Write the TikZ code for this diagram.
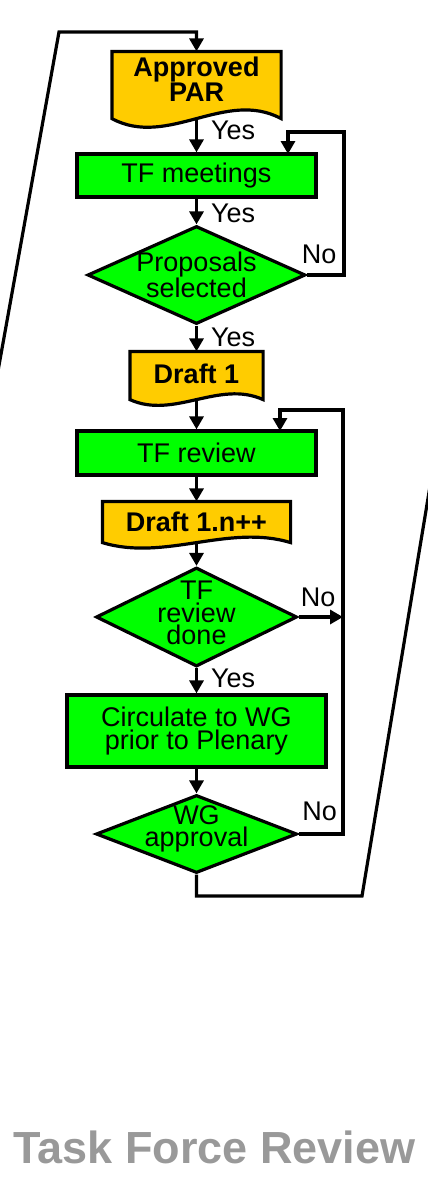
\documentclass[tikz,border=0pt]{standalone}
\usepackage{fontspec}
\setmainfont{Liberation Sans}
\usetikzlibrary{shapes.geometric,arrows.meta,backgrounds,calc}

\definecolor{docgold}{HTML}{FFCC00}
\definecolor{stepgreen}{HTML}{00FF00}
\definecolor{titlegray}{HTML}{999999}

\tikzset{
  stepbox/.style={rectangle, draw, fill=stepgreen, inner sep=0, align=center,
    font=\fontsize{27}{22.5}\selectfont},
  decision/.style={diamond, draw, fill=stepgreen, inner sep=0},
  docbox/.style={rectangle, draw=none, inner sep=0},
  docline/.style={draw, fill=docgold, line width=3.2pt},
  doctext/.style={font=\fontsize{27}{22.5}\selectfont\bfseries, align=center, inner sep=0},
  steptext/.style={font=\fontsize{27}{22.5}\selectfont, align=center, inner sep=0},
  lbl/.style={font=\fontsize{27}{22.5}\selectfont, inner sep=0},
  slidetitle/.style={font=\fontsize{45}{50}\selectfont\bfseries, text=titlegray, inner sep=0},
  flow/.style={-{Triangle[length=13pt,width=14pt]}, line width=3.2pt}
}

% document outline with a wavy bottom, behind the node
\newcommand{\docshape}[2]{%
  \begin{scope}[on background layer]
    \draw[docline] (#1.south west) -- (#1.north west) -- (#1.north east) -- (#1.south east)
      .. controls ($(#1.south east)!0.33!(#1.south west)+(0,-#2)$)
      and ($(#1.south east)!0.67!(#1.south west)+(0,#2)$) .. (#1.south west) -- cycle;
  \end{scope}}

\begin{document}
\begin{tikzpicture}[x=1pt, y=-1pt, line width=3.2pt]
    \useasboundingbox (0,0) rectangle (428,1186);
    \clip (0,0) rectangle (428,1186);

    % steps
    \node[docbox, minimum width=166pt, minimum height=64pt,
      label={[doctext, yshift=6pt]center:Approved\\PAR}] (par) at (196.5,85) {};
    \node[stepbox, minimum width=239pt, minimum height=43pt] (meet) at (196.5,175.5) {TF meetings};
    \node[decision, minimum width=218pt, minimum height=98pt,
      label={[steptext]center:Proposals\\selected}] (prop) at (196.5,275) {};
    \node[docbox, minimum width=130pt, minimum height=45pt,
      label={[doctext, yshift=2pt]center:Draft 1}] (draft) at (196.5,375.5) {};
    \node[stepbox, minimum width=239pt, minimum height=44pt] (review) at (196.5,453) {TF review};
    \node[docbox, minimum width=185pt, minimum height=38pt,
      label={[doctext]center:Draft 1.n++}] (draftn) at (196.5,522) {};
    \node[decision, minimum width=201pt, minimum height=99pt,
      label={[steptext, yshift=4pt]center:TF\\review\\done}] (done) at (196.5,617) {};
    \node[stepbox, minimum width=259pt, minimum height=72pt] (circ) at (196.5,731) {Circulate to WG\\prior to Plenary};
    \node[decision, minimum width=201pt, minimum height=78pt,
      label={[steptext, yshift=5pt]center:WG\\approval}] (wg) at (196.5,834) {};
    \node[slidetitle, anchor=base] (ttl) at (214.5,1163) {Task Force Review};

    \docshape{par}{30}
    \docshape{draft}{20}
    \docshape{draftn}{19}

    % loop corners
    \coordinate (meetloop) at (344,132);
    \coordinate (meetin) at (288,154);
    \coordinate (revloop) at (343,410);
    \coordinate (revin) at (280,431);
    \coordinate (backR) at (362,896);
    \coordinate (outR) at (445,396);
    \coordinate (outRtop) at (445,-20);
    \coordinate (outLtop) at (-40,-20);
    \coordinate (outL) at (-40,582);
    \coordinate (backL) at (59,32);

    % main flow
    \draw[flow] (par) -- node[lbl, right=13pt, pos=.35] {Yes} (meet);
    \draw[flow] (meet) -- node[lbl, right=13pt, pos=.57] {Yes} (prop);
    \draw[flow] (prop) -- node[lbl, right=13pt, pos=.47] {Yes} (draft);
    \draw[flow] (draft) -- (review);
    \draw[flow] (review) -- (draftn);
    \draw[flow] (draftn) -- (done);
    \draw[flow] (done) -- node[lbl, right=13pt, pos=.4] {Yes} (circ);
    \draw[flow] (circ) -- (wg);

    % No branches
    \draw[flow] (prop.east) node[lbl, anchor=south, xshift=12pt, yshift=10pt] {No}
      -| (meetloop) -| (meetin);
    \draw[flow] (done.east) node[lbl, anchor=south, xshift=19.5pt, yshift=9pt] {No}
      -- (done.east -| revloop);
    \draw[flow] (wg.east) node[lbl, anchor=south, xshift=21pt, yshift=12pt] {No}
      -| (revloop) -| (revin);

    % back to the PAR
    \draw[flow] (wg.south) |- (backR) -- (outR) -- (outRtop) -- (outLtop) -- (outL)
      -- (backL) -| (par.north);
\end{tikzpicture}
\end{document}
